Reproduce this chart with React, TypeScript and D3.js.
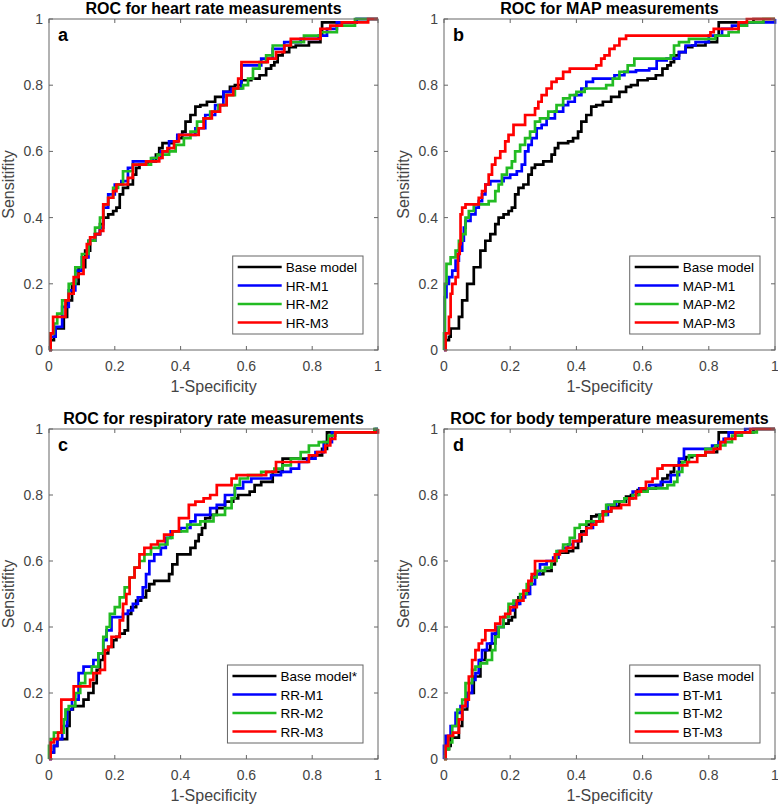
import React from 'react';
import * as d3 from 'd3';

type Pt = [number, number];

// ---------- data (1-Specificity, Sensitivity) ----------
const baseModel: Pt[] = [
  [0,0],[0.01,0.03],[0.02,0.04],[0.02,0.065],[0.04,0.065],[0.05,0.1],[0.06,0.15],[0.08,0.2],[0.1,0.25],[0.12,0.3],[0.13,0.33],[0.15,0.35],[0.16,0.38],[0.17,0.4],[0.19,0.41],[0.2,0.42],[0.21,0.43],[0.22,0.47],[0.23,0.49],[0.25,0.5],[0.26,0.53],[0.27,0.55],[0.28,0.56],[0.32,0.57],[0.33,0.59],[0.34,0.61],[0.35,0.625],[0.37,0.625],[0.38,0.63],[0.4,0.64],[0.41,0.66],[0.42,0.69],[0.44,0.71],[0.45,0.735],[0.47,0.74],[0.49,0.75],[0.52,0.765],[0.54,0.78],[0.56,0.795],[0.57,0.8],[0.6,0.815],[0.63,0.82],[0.65,0.83],[0.67,0.85],[0.68,0.86],[0.69,0.87],[0.7,0.89],[0.72,0.9],[0.74,0.915],[0.76,0.92],[0.82,0.93],[0.83,0.95],[0.83,0.99],[0.9,0.99],[0.97,1],[1,1]
];

const hrM1: Pt[] = [
  [0,0],[0.01,0.04],[0.03,0.07],[0.05,0.13],[0.07,0.18],[0.09,0.24],[0.11,0.28],[0.13,0.33],[0.15,0.35],[0.16,0.37],[0.17,0.43],[0.19,0.47],[0.21,0.5],[0.23,0.51],[0.25,0.55],[0.26,0.57],[0.3,0.57],[0.33,0.58],[0.35,0.6],[0.38,0.63],[0.4,0.65],[0.43,0.65],[0.46,0.67],[0.49,0.71],[0.52,0.74],[0.54,0.78],[0.57,0.79],[0.6,0.86],[0.63,0.86],[0.66,0.88],[0.7,0.91],[0.73,0.93],[0.8,0.94],[0.84,0.95],[0.85,0.97],[0.9,0.99],[0.97,1],[1,1]
];
const hrM2: Pt[] = [
  [0,0],[0.01,0.05],[0.02,0.08],[0.03,0.11],[0.05,0.15],[0.07,0.2],[0.09,0.25],[0.11,0.29],[0.13,0.33],[0.15,0.37],[0.16,0.4],[0.17,0.44],[0.19,0.46],[0.2,0.49],[0.22,0.5],[0.23,0.54],[0.25,0.54],[0.26,0.56],[0.3,0.56],[0.32,0.58],[0.34,0.59],[0.36,0.59],[0.37,0.6],[0.4,0.62],[0.42,0.64],[0.44,0.66],[0.46,0.69],[0.48,0.7],[0.5,0.72],[0.53,0.74],[0.55,0.77],[0.58,0.79],[0.6,0.8],[0.61,0.82],[0.63,0.85],[0.65,0.87],[0.67,0.89],[0.69,0.92],[0.72,0.92],[0.75,0.93],[0.8,0.95],[0.85,0.96],[0.9,0.98],[0.96,1],[1,1]
];
const hrM3: Pt[] = [
  [0,0],[0.01,0.05],[0.015,0.1],[0.05,0.1],[0.05,0.15],[0.07,0.17],[0.08,0.22],[0.1,0.23],[0.11,0.28],[0.12,0.32],[0.13,0.34],[0.15,0.35],[0.16,0.36],[0.17,0.44],[0.19,0.46],[0.2,0.48],[0.21,0.5],[0.23,0.5],[0.25,0.52],[0.26,0.56],[0.33,0.57],[0.34,0.58],[0.35,0.6],[0.37,0.61],[0.39,0.63],[0.4,0.65],[0.45,0.65],[0.46,0.67],[0.48,0.7],[0.51,0.72],[0.53,0.74],[0.55,0.77],[0.57,0.79],[0.58,0.82],[0.59,0.87],[0.65,0.87],[0.68,0.88],[0.7,0.9],[0.73,0.92],[0.74,0.94],[0.82,0.94],[0.83,0.97],[0.88,0.98],[0.9,0.99],[0.96,0.99],[0.98,1],[1,1]
];

const mapM1: Pt[] = [
  [0,0],[0.005,0.16],[0.01,0.2],[0.02,0.22],[0.03,0.24],[0.04,0.27],[0.05,0.3],[0.06,0.33],[0.06,0.37],[0.07,0.39],[0.09,0.41],[0.1,0.43],[0.11,0.45],[0.12,0.47],[0.13,0.5],[0.15,0.51],[0.17,0.51],[0.19,0.52],[0.21,0.53],[0.23,0.54],[0.24,0.56],[0.25,0.6],[0.26,0.62],[0.27,0.64],[0.29,0.67],[0.3,0.68],[0.32,0.7],[0.35,0.72],[0.37,0.74],[0.38,0.75],[0.41,0.77],[0.42,0.79],[0.44,0.81],[0.46,0.82],[0.5,0.82],[0.53,0.83],[0.56,0.84],[0.6,0.845],[0.64,0.85],[0.645,0.875],[0.7,0.88],[0.72,0.9],[0.74,0.92],[0.78,0.93],[0.82,0.95],[0.86,0.97],[0.88,0.98],[0.95,0.99],[1,0.99],[1,1]
];
const mapM2: Pt[] = [
  [0,0],[0,0.05],[0.005,0.2],[0.01,0.26],[0.03,0.28],[0.04,0.3],[0.05,0.33],[0.06,0.35],[0.07,0.4],[0.08,0.42],[0.1,0.44],[0.12,0.44],[0.15,0.45],[0.16,0.48],[0.17,0.5],[0.18,0.53],[0.2,0.55],[0.21,0.57],[0.22,0.6],[0.24,0.62],[0.25,0.64],[0.27,0.66],[0.28,0.69],[0.3,0.7],[0.33,0.72],[0.35,0.74],[0.37,0.76],[0.39,0.77],[0.41,0.78],[0.44,0.79],[0.48,0.79],[0.5,0.8],[0.52,0.82],[0.54,0.84],[0.57,0.86],[0.58,0.88],[0.68,0.88],[0.69,0.89],[0.7,0.92],[0.72,0.93],[0.76,0.94],[0.8,0.94],[0.84,0.95],[0.88,0.96],[0.9,0.98],[0.93,0.99],[1,1]
];
const mapM3: Pt[] = [
  [0,0],[0.01,0.05],[0.02,0.1],[0.02,0.17],[0.03,0.2],[0.04,0.22],[0.045,0.29],[0.05,0.32],[0.05,0.41],[0.06,0.43],[0.07,0.44],[0.1,0.44],[0.11,0.46],[0.12,0.48],[0.13,0.5],[0.14,0.53],[0.15,0.56],[0.16,0.58],[0.18,0.6],[0.19,0.63],[0.2,0.65],[0.22,0.68],[0.24,0.68],[0.25,0.71],[0.27,0.71],[0.28,0.73],[0.29,0.75],[0.3,0.77],[0.32,0.79],[0.33,0.81],[0.35,0.82],[0.37,0.84],[0.39,0.85],[0.45,0.85],[0.47,0.86],[0.48,0.88],[0.49,0.89],[0.51,0.91],[0.52,0.92],[0.54,0.94],[0.56,0.95],[0.8,0.95],[0.81,0.96],[0.82,0.97],[0.88,0.97],[0.9,0.99],[0.93,1],[1,1]
];

const baseModelStar: Pt[] = [
  [0,0],[0.01,0.02],[0.02,0.04],[0.03,0.06],[0.05,0.06],[0.06,0.1],[0.065,0.15],[0.08,0.16],[0.1,0.16],[0.11,0.18],[0.13,0.2],[0.14,0.23],[0.15,0.27],[0.16,0.3],[0.17,0.32],[0.19,0.34],[0.2,0.36],[0.21,0.37],[0.22,0.38],[0.24,0.39],[0.24,0.44],[0.26,0.46],[0.27,0.48],[0.29,0.49],[0.3,0.51],[0.31,0.53],[0.33,0.54],[0.36,0.54],[0.37,0.56],[0.38,0.59],[0.4,0.62],[0.42,0.62],[0.44,0.64],[0.45,0.66],[0.46,0.68],[0.47,0.7],[0.48,0.73],[0.5,0.74],[0.52,0.76],[0.55,0.78],[0.57,0.79],[0.58,0.8],[0.6,0.8],[0.62,0.81],[0.63,0.83],[0.66,0.84],[0.7,0.87],[0.72,0.91],[0.75,0.91],[0.78,0.91],[0.82,0.92],[0.84,0.94],[0.85,0.99],[0.99,0.99],[0.99,1],[1,1]
];
const rrM1: Pt[] = [
  [0,0],[0.01,0.02],[0.02,0.04],[0.03,0.06],[0.05,0.1],[0.06,0.15],[0.08,0.18],[0.1,0.26],[0.11,0.28],[0.13,0.28],[0.14,0.3],[0.16,0.32],[0.17,0.36],[0.18,0.39],[0.2,0.43],[0.22,0.43],[0.23,0.44],[0.25,0.45],[0.26,0.47],[0.28,0.49],[0.29,0.52],[0.3,0.56],[0.31,0.6],[0.33,0.62],[0.35,0.64],[0.36,0.67],[0.38,0.69],[0.42,0.7],[0.44,0.72],[0.45,0.74],[0.48,0.74],[0.5,0.76],[0.52,0.77],[0.55,0.8],[0.58,0.82],[0.6,0.84],[0.63,0.85],[0.66,0.85],[0.69,0.86],[0.72,0.87],[0.75,0.88],[0.77,0.9],[0.8,0.91],[0.82,0.93],[0.85,0.96],[0.87,0.99],[0.99,0.99],[1,1]
];
const rrM2: Pt[] = [
  [0,0],[0,0.04],[0.01,0.06],[0.02,0.08],[0.04,0.08],[0.05,0.12],[0.05,0.15],[0.07,0.16],[0.09,0.2],[0.1,0.23],[0.12,0.26],[0.14,0.28],[0.16,0.32],[0.17,0.37],[0.18,0.4],[0.19,0.44],[0.21,0.46],[0.22,0.49],[0.24,0.52],[0.25,0.55],[0.27,0.58],[0.28,0.6],[0.3,0.62],[0.32,0.64],[0.35,0.65],[0.37,0.67],[0.38,0.69],[0.4,0.69],[0.44,0.71],[0.48,0.72],[0.52,0.74],[0.55,0.76],[0.56,0.79],[0.57,0.83],[0.59,0.85],[0.62,0.86],[0.67,0.87],[0.7,0.88],[0.72,0.89],[0.75,0.91],[0.78,0.93],[0.8,0.95],[0.84,0.96],[0.86,0.98],[0.88,0.99],[0.99,0.99],[0.99,1],[1,1]
];
const rrM3: Pt[] = [
  [0,0],[0.01,0.05],[0.02,0.06],[0.035,0.08],[0.04,0.18],[0.07,0.18],[0.08,0.22],[0.12,0.22],[0.13,0.24],[0.14,0.26],[0.17,0.27],[0.17,0.33],[0.19,0.34],[0.19,0.37],[0.21,0.37],[0.22,0.42],[0.23,0.47],[0.24,0.5],[0.25,0.55],[0.27,0.58],[0.28,0.62],[0.3,0.64],[0.32,0.65],[0.34,0.66],[0.36,0.68],[0.39,0.69],[0.4,0.73],[0.42,0.73],[0.43,0.77],[0.46,0.78],[0.48,0.79],[0.5,0.8],[0.52,0.83],[0.55,0.83],[0.56,0.85],[0.58,0.86],[0.65,0.86],[0.67,0.87],[0.71,0.9],[0.78,0.9],[0.8,0.92],[0.83,0.93],[0.85,0.95],[0.86,0.97],[0.88,0.99],[1,0.99],[1,1]
];

const btM1: Pt[] = [
  [0,0],[0,0.04],[0.01,0.07],[0.03,0.1],[0.04,0.14],[0.06,0.16],[0.08,0.2],[0.09,0.24],[0.1,0.26],[0.11,0.3],[0.12,0.33],[0.14,0.35],[0.15,0.38],[0.17,0.4],[0.19,0.43],[0.2,0.45],[0.22,0.47],[0.24,0.49],[0.25,0.5],[0.27,0.53],[0.28,0.56],[0.3,0.59],[0.32,0.6],[0.34,0.61],[0.35,0.63],[0.37,0.64],[0.38,0.65],[0.4,0.66],[0.42,0.68],[0.44,0.7],[0.46,0.72],[0.48,0.74],[0.51,0.77],[0.53,0.78],[0.56,0.79],[0.58,0.81],[0.6,0.82],[0.64,0.83],[0.67,0.84],[0.7,0.86],[0.72,0.91],[0.73,0.94],[0.8,0.94],[0.82,0.95],[0.84,0.96],[0.85,0.97],[0.87,0.99],[0.95,1],[1,1]
];
const btM2: Pt[] = [
  [0,0],[0.01,0.03],[0.02,0.05],[0.03,0.1],[0.05,0.15],[0.06,0.18],[0.07,0.23],[0.08,0.23],[0.09,0.27],[0.1,0.28],[0.12,0.29],[0.14,0.3],[0.15,0.33],[0.16,0.37],[0.17,0.4],[0.19,0.43],[0.2,0.47],[0.22,0.48],[0.24,0.5],[0.26,0.53],[0.27,0.55],[0.29,0.57],[0.32,0.58],[0.33,0.6],[0.35,0.63],[0.37,0.65],[0.39,0.67],[0.4,0.7],[0.42,0.71],[0.44,0.72],[0.46,0.72],[0.48,0.74],[0.5,0.77],[0.53,0.78],[0.56,0.79],[0.58,0.8],[0.6,0.81],[0.63,0.82],[0.66,0.82],[0.69,0.83],[0.7,0.84],[0.71,0.87],[0.73,0.9],[0.75,0.92],[0.78,0.92],[0.8,0.94],[0.84,0.95],[0.86,0.96],[0.88,0.98],[0.92,0.99],[0.97,1],[1,1]
];
const btM3: Pt[] = [
  [0,0],[0.01,0.04],[0.015,0.07],[0.04,0.08],[0.05,0.12],[0.06,0.16],[0.07,0.18],[0.08,0.25],[0.09,0.3],[0.1,0.33],[0.11,0.35],[0.12,0.36],[0.13,0.39],[0.15,0.39],[0.16,0.41],[0.18,0.43],[0.19,0.44],[0.21,0.46],[0.23,0.48],[0.25,0.51],[0.26,0.54],[0.27,0.56],[0.28,0.6],[0.33,0.6],[0.34,0.62],[0.36,0.63],[0.38,0.64],[0.4,0.66],[0.42,0.68],[0.44,0.7],[0.45,0.71],[0.47,0.72],[0.49,0.75],[0.52,0.76],[0.55,0.77],[0.57,0.79],[0.59,0.81],[0.6,0.82],[0.62,0.84],[0.64,0.85],[0.65,0.88],[0.67,0.89],[0.72,0.89],[0.75,0.9],[0.78,0.92],[0.8,0.93],[0.83,0.94],[0.84,0.96],[0.86,0.97],[0.9,0.99],[0.95,1],[1,1]
];

const tickValues = [0, 0.2, 0.4, 0.6, 0.8, 1];
const tickLabels = ['0', '0.2', '0.4', '0.6', '0.8', '1'];
const seriesColors = ['#000000', '#0000ff', '#22bb22', '#ff0000'];

const titles = [
  'ROC for heart rate measurements',
  'ROC for MAP measurements',
  'ROC for respiratory rate measurements',
  'ROC for body temperature measurements',
];
const letters = ['a', 'b', 'c', 'd'];
const legendNames = [
  ['Base model', 'HR-M1', 'HR-M2', 'HR-M3'],
  ['Base model', 'MAP-M1', 'MAP-M2', 'MAP-M3'],
  ['Base model*', 'RR-M1', 'RR-M2', 'RR-M3'],
  ['Base model', 'BT-M1', 'BT-M2', 'BT-M3'],
];
const curveSets: Pt[][][] = [
  [baseModel, hrM1, hrM2, hrM3],
  [baseModel, mapM1, mapM2, mapM3],
  [baseModelStar, rrM1, rrM2, rrM3],
  [baseModel, btM1, btM2, btM3],
];

// layout boxes of the plot areas
const boxes = [
  { left: 49, right: 378, top: 19, bottom: 350 },
  { left: 444, right: 775, top: 19, bottom: 350 },
  { left: 49, right: 378, top: 429, bottom: 759 },
  { left: 444, right: 775, top: 429, bottom: 759 },
];

const FONT = '"Liberation Sans", Arial, Helvetica, sans-serif';
const AXLINE = '#666666';
const AXTEXT = '#444444';

function measure(text: string, font: string): number {
  if (typeof document === 'undefined') return text.length * 7;
  const c = (measure as any)._c || ((measure as any)._c = document.createElement('canvas'));
  const ctx = c.getContext('2d');
  ctx.font = font;
  return ctx.measureText(text).width;
}

function Panel({ idx }: { idx: number }) {
  const b = boxes[idx];
  const x = d3.scaleLinear().domain([0, 1]).range([b.left, b.right]);
  const y = d3.scaleLinear().domain([0, 1]).range([b.bottom, b.top]);
  const line = d3
    .line<Pt>()
    .x((d) => x(d[0]))
    .y((d) => y(d[1]))
    .curve(d3.curveStep);
  const tl = 4;
  const names = legendNames[idx];
  const legFont = `13.5px ${FONT}`;
  const maxW = Math.max(...names.map((n) => measure(n, legFont)));
  const legW = 5 + 44 + 4 + maxW + 6;
  const legH = 78;
  const legRight = b.right - 15;
  const legBottom = b.bottom - 16;
  const legLeft = legRight - legW;
  const legTop = legBottom - legH;
  const cx = (b.left + b.right) / 2;
  const cy = (b.top + b.bottom) / 2;
  return (
    <g>
      <rect x={b.left} y={b.top} width={b.right - b.left} height={b.bottom - b.top} fill="#fff" />
      {curveSets[idx].map((c, i) => (
        <path key={i} d={line(c) || ''} fill="none" stroke={seriesColors[i]} strokeWidth={2.7} strokeLinejoin="miter" />
      ))}
      <rect x={b.left} y={b.top} width={b.right - b.left} height={b.bottom - b.top} fill="none" stroke={AXLINE} strokeWidth={1} />
      {tickValues.map((v, i) => (
        <g key={i} stroke={AXLINE} strokeWidth={1}>
          <line x1={x(v)} x2={x(v)} y1={b.bottom} y2={b.bottom - tl} />
          <line x1={x(v)} x2={x(v)} y1={b.top} y2={b.top + tl} />
          <line x1={b.left} x2={b.left + tl} y1={y(v)} y2={y(v)} />
          <line x1={b.right} x2={b.right - tl} y1={y(v)} y2={y(v)} />
        </g>
      ))}
      {tickValues.map((v, i) => (
        <text key={'xl' + i} x={x(v)} y={b.bottom + 21} textAnchor="middle" fontSize={14} fill={AXTEXT} fontFamily={FONT}>
          {tickLabels[i]}
        </text>
      ))}
      {tickValues.map((v, i) => (
        <text key={'yl' + i} x={b.left - 6} y={y(v) + 5} textAnchor="end" fontSize={14} fill={AXTEXT} fontFamily={FONT}>
          {tickLabels[i]}
        </text>
      ))}
      <text x={cx} y={b.bottom + 42} textAnchor="middle" fontSize={16} fill={AXTEXT} fontFamily={FONT}>
        1-Specificity
      </text>
      <text
        transform={`translate(${b.left - 35},${cy}) rotate(-90)`}
        textAnchor="middle"
        fontSize={16}
        fill={AXTEXT}
        fontFamily={FONT}
      >
        Sensitifity
      </text>
      <text x={cx} y={b.top - 5.5} textAnchor="middle" fontSize={16} fontWeight="bold" fill="#000" fontFamily={FONT}>
        {titles[idx]}
      </text>
      <text x={b.left + 9} y={b.top + 22} fontSize={18} fontWeight="bold" fill="#000" fontFamily={FONT}>
        {letters[idx]}
      </text>
      <rect x={legLeft} y={legTop} width={legW} height={legH} fill="#fff" stroke={AXLINE} strokeWidth={1} />
      {names.map((n, i) => {
        const ry = legTop + 11 + i * 18.5;
        return (
          <g key={'lg' + i}>
            <line x1={legLeft + 5} x2={legLeft + 49} y1={ry} y2={ry} stroke={seriesColors[i]} strokeWidth={2.7} />
            <text x={legLeft + 53} y={ry + 5} fontSize={13.5} fill="#000" fontFamily={FONT}>
              {n}
            </text>
          </g>
        );
      })}
    </g>
  );
}

export default function App() {
  return (
    <svg
      width={778}
      height={806}
      style={{ position: 'absolute', left: 0, top: 0, background: '#fff' }}
      xmlns="http://www.w3.org/2000/svg"
    >
      <rect x={0} y={0} width={778} height={806} fill="#fff" />
      {[0, 1, 2, 3].map((i) => (
        <Panel key={i} idx={i} />
      ))}
    </svg>
  );
}
